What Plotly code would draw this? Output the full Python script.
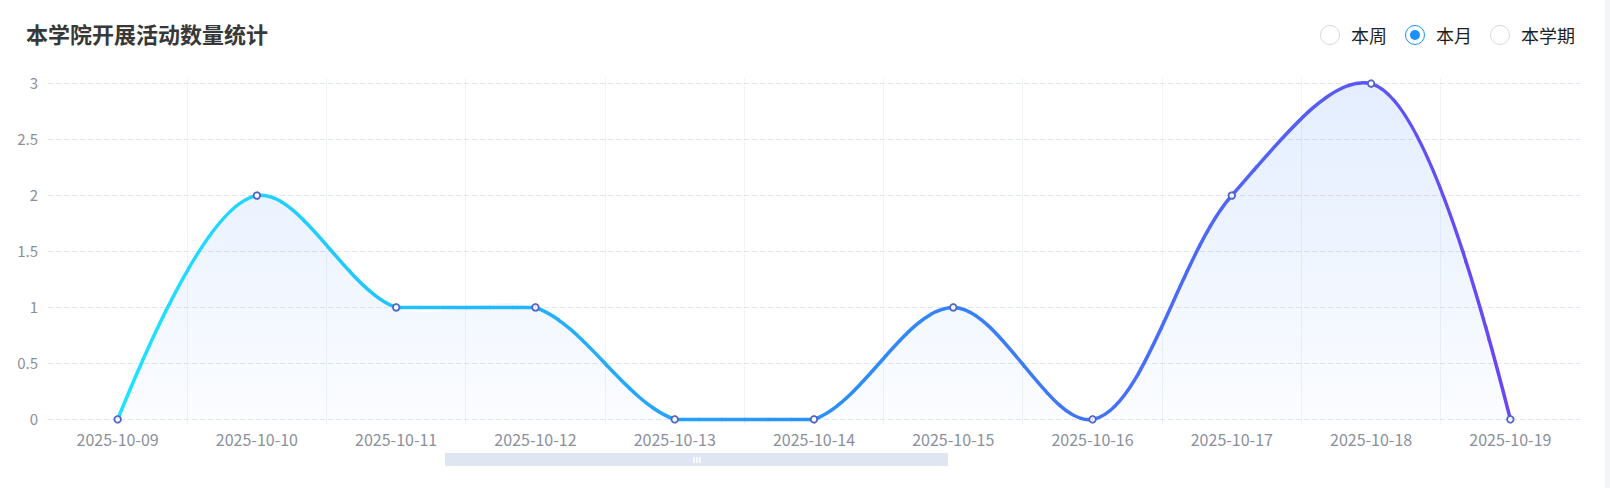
import plotly.graph_objects as go

# chart data
dates = [
    "2025-10-09", "2025-10-10", "2025-10-11", "2025-10-12", "2025-10-13", "2025-10-14",
    "2025-10-15", "2025-10-16", "2025-10-17", "2025-10-18", "2025-10-19",
]
counts = [0, 2, 1, 1, 0, 0, 1, 0, 2, 3, 0]

title_text = "本学院开展活动数量统计"
period_options = ["本周", "本月", "本学期"]
period_selected = "本月"

# page / plot geometry in pixels
W, H = 1610, 488
PLOT_L, PLOT_R = 48, 1580
PLOT_T, PLOT_B = 78, 425       # main plot area (y axis with a small pad)
PAPER_T, PAPER_B = 62, 448     # taller area so the line is not clipped too tightly
Y_PAD = 0.05
SUB = 6                        # colour bands per segment for the line gradient

# line gradient stops (left -> right), echarts-like
LINE_STOPS = [(0.0, (30, 228, 255)), (0.5, (40, 146, 247)), (1.0, (106, 70, 246))]
FONT = "Noto Sans CJK SC"


def px_x(px):
    return (px - PLOT_L) / (PLOT_R - PLOT_L)


def px_y(py):
    return (PAPER_B - py) / (PAPER_B - PAPER_T)


def grad_color(t):
    t = max(0.0, min(1.0, t))
    for (t0, c0), (t1, c1) in zip(LINE_STOPS[:-1], LINE_STOPS[1:]):
        if t <= t1:
            f = (t - t0) / (t1 - t0)
            rgb = [round(a + (b - a) * f) for a, b in zip(c0, c1)]
            return "rgb({},{},{})".format(*rgb)
    return "rgb({},{},{})".format(*LINE_STOPS[-1][1])


n = len(dates)
x_lo, x_hi = -0.5, n - 0.5
y_range = [-Y_PAD, max(counts) + Y_PAD]
px_per_unit = (PLOT_B - PLOT_T) / (y_range[1] - y_range[0])
y2_range = [
    y_range[0] - (PAPER_B - PLOT_B) / px_per_unit,
    y_range[1] + (PLOT_T - PAPER_T) / px_per_unit,
]

fig = go.Figure()

# area fill under the smooth line
fig.add_trace(
    go.Scatter(
        x=dates,
        y=counts,
        mode="lines",
        line=dict(shape="spline", smoothing=1, width=0),
        fill="tozeroy",
        fillgradient=dict(
            type="vertical",
            colorscale=[[0, "rgba(70,140,255,0.02)"], [1, "rgba(70,140,255,0.15)"]],
        ),
        hoverinfo="skip",
        showlegend=False,
    )
)

# the line is drawn band by band (each band on its own hidden x axis, so it is
# clipped there) to get a left-to-right colour gradient
bounds = [x_lo]
for i in range(n - 1):
    bounds += [i + j / SUB for j in range(SUB)]
bounds += [n - 1, x_hi]

first_px = PLOT_L + (PLOT_R - PLOT_L) * (0 - x_lo) / (x_hi - x_lo)
last_px = PLOT_L + (PLOT_R - PLOT_L) * (n - 1 - x_lo) / (x_hi - x_lo)
eps = 1.0 / (PLOT_R - PLOT_L)
slice_axes = {}
for k, (a, b) in enumerate(zip(bounds[:-1], bounds[1:])):
    d0 = (a - x_lo) / (x_hi - x_lo)
    d1 = min(1.0, (b - x_lo) / (x_hi - x_lo) + eps)
    ax_num = k + 2
    slice_axes[f"xaxis{ax_num}"] = dict(
        domain=[d0, d1],
        range=[x_lo + (x_hi - x_lo) * d0, x_lo + (x_hi - x_lo) * d1],
        type="category",
        categoryarray=dates,
        visible=False,
        showgrid=False,
        anchor="y2",
        fixedrange=True,
    )
    mid_px = PLOT_L + (PLOT_R - PLOT_L) * (d0 + d1) / 2
    color = grad_color((mid_px - first_px) / (last_px - first_px))
    seg = int(a) if 0 <= a < n - 1 else None
    if seg is not None:
        # flat runs stay flat (echarts clamps its control points there)
        if counts[seg] == counts[seg + 1]:
            xs, ys, shape = dates[seg:seg + 2], counts[seg:seg + 2], "linear"
        else:
            xs, ys, shape = dates, counts, "spline"
        fig.add_trace(
            go.Scatter(
                x=xs, y=ys, xaxis=f"x{ax_num}", yaxis="y2", mode="lines",
                line=dict(color=color, width=3.5, shape=shape, smoothing=1),
                hoverinfo="skip", showlegend=False,
            )
        )
    fig.add_trace(
        go.Scatter(
            x=dates, y=counts, xaxis=f"x{ax_num}", yaxis="y2", mode="markers",
            marker=dict(size=6.5, color="white", line=dict(color="#4f63c4", width=1.8)),
            cliponaxis=True, hoverinfo="skip", showlegend=False,
        )
    )

shapes = []
annotations = []

# title
annotations.append(
    dict(
        text=title_text, x=px_x(24), y=px_y(33), xref="paper", yref="paper",
        xanchor="left", yanchor="middle", showarrow=False,
        font=dict(family=FONT, size=22, color="#383838", weight=700),
    )
)

# radio group (本周 / 本月 / 本学期)
radio_x = [1330, 1415, 1500]
for label, cx in zip(period_options, radio_x):
    on = label == period_selected
    shapes.append(
        dict(
            type="circle", xref="paper", yref="paper", xsizemode="pixel", ysizemode="pixel",
            xanchor=px_x(cx), yanchor=px_y(35), x0=-9.5, x1=9.5, y0=-9.5, y1=9.5,
            line=dict(color="#1890ff" if on else "#d9d9d9", width=1), fillcolor="white",
        )
    )
    if on:
        shapes.append(
            dict(
                type="circle", xref="paper", yref="paper", xsizemode="pixel", ysizemode="pixel",
                xanchor=px_x(cx), yanchor=px_y(35), x0=-5, x1=5, y0=-5, y1=5,
                line=dict(width=0), fillcolor="#1890ff",
            )
        )
    annotations.append(
        dict(
            text=label, x=px_x(cx + 19), y=px_y(35), xref="paper", yref="paper",
            xanchor="left", yanchor="middle", showarrow=False,
            font=dict(family=FONT, size=18, color="#1f1f1f"),
        )
    )

# data zoom slider strip under the axis
shapes.append(
    dict(
        type="rect", xref="paper", yref="paper",
        x0=px_x(445), x1=px_x(948), y0=px_y(466), y1=px_y(453),
        line=dict(width=0), fillcolor="#dfe6f2", layer="below",
    )
)
for hx in (694, 697, 700):
    shapes.append(
        dict(
            type="line", xref="paper", yref="paper",
            x0=px_x(hx), x1=px_x(hx), y0=px_y(463), y1=px_y(457),
            line=dict(color="white", width=1.5),
        )
    )

# grey strip at the right edge of the page
shapes.append(
    dict(
        type="rect", xref="paper", yref="paper",
        x0=px_x(1605), x1=px_x(W + 5), y0=px_y(H + 5), y1=px_y(-5),
        line=dict(width=0), fillcolor="#f4f5f7", layer="below",
    )
)

fig.update_layout(
    width=W,
    height=H,
    margin=dict(l=PLOT_L, r=W - PLOT_R, t=PAPER_T, b=H - PAPER_B, pad=0),
    paper_bgcolor="white",
    plot_bgcolor="rgba(0,0,0,0)",
    showlegend=False,
    font=dict(family=FONT, color="#8a909c"),
    xaxis=dict(
        type="category",
        categoryarray=dates,
        range=[x_lo, x_hi],
        tickson="boundaries",
        showgrid=True,
        gridcolor="#f1f3f8",
        gridwidth=1,
        showline=False,
        zeroline=False,
        ticks="",
        ticklabelstandoff=4,
        tickfont=dict(size=16, color="#8a909c"),
        fixedrange=True,
        anchor="y",
    ),
    yaxis=dict(
        domain=[px_y(PLOT_B), px_y(PLOT_T)],
        range=y_range,
        tick0=0,
        dtick=0.5,
        showgrid=True,
        gridcolor="#e0e6f1",
        griddash="5px,3px",
        gridwidth=1,
        zeroline=False,
        showline=False,
        ticks="",
        ticklabelstandoff=9,
        tickfont=dict(size=15, color="#8a909c"),
        fixedrange=True,
    ),
    yaxis2=dict(
        range=y2_range,
        domain=[0, 1],
        visible=False,
        showgrid=False,
        zeroline=False,
        anchor="x2",
        fixedrange=True,
    ),
    shapes=shapes,
    annotations=annotations,
    **slice_axes,
)

fig.write_html(
    "out.html",
    config={"displayModeBar": False},
    post_script="document.body.style.margin = '0px';",
)
